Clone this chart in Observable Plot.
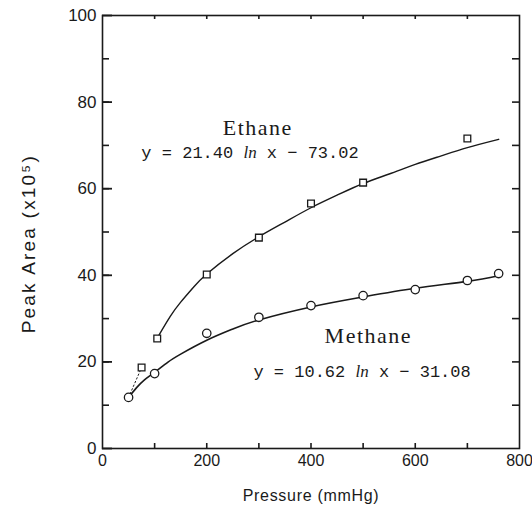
<!DOCTYPE html>
<html>
<head>
<meta charset="utf-8">
<script src="https://cdn.jsdelivr.net/npm/d3@7"></script>
<script src="https://cdn.jsdelivr.net/npm/@observablehq/plot@0.6"></script>
<style>
  html, body { margin: 0; padding: 0; background: #fff; }
  #chart { width: 532px; height: 522px; }
</style>
</head>
<body>
<div id="chart"></div>
<script>
// Tick labels
const xTicks = [0, 200, 400, 600, 800];
const xMinorTicks = [100, 200, 300, 400, 500, 600, 700];
const yTicks = [0, 20, 40, 60, 80, 100];
const yMinorTicks = [10, 20, 30, 40, 50, 60, 70, 80, 90];

// Measured points
const methaneX = [50, 100, 200, 300, 400, 500, 600, 700, 760];
const methaneY = [11.8, 17.3, 26.6, 30.3, 33.0, 35.3, 36.7, 38.8, 40.4];
const ethaneX = [75, 105, 200, 300, 400, 500, 700];
const ethaneY = [18.7, 25.4, 40.2, 48.7, 56.6, 61.4, 71.6];

// Fitted curves
const ethaneCurveX = [105, 130, 150, 175, 200, 250, 300, 350, 400, 450, 500, 550, 600, 650, 700, 760];
const ethaneCurveY = [25.5, 30.5, 33.8, 37.3, 40.3, 45.0, 48.9, 52.3, 55.6, 58.5, 61.2, 63.4, 65.6, 67.6, 69.5, 71.4];
const methaneCurveX = [50, 65, 80, 100, 125, 150, 200, 250, 300, 400, 500, 600, 700, 760];
const methaneCurveY = [11.8, 14.0, 15.8, 17.6, 19.9, 21.8, 25.0, 27.6, 29.7, 32.7, 35.0, 37.0, 38.6, 39.9];
// dotted link at the low end
const linkX = [50, 75];
const linkY = [11.8, 18.7];

// Labels
const seriesNames = ["Ethane", "Methane"];
const equations = ["y = 21.40 ln x \u2212 73.02", "y = 10.62 ln x \u2212 31.08"];
const nameX = [298, 510], nameY = [74.1, 26.1];
const eqX = [283, 498], eqY = [68.4, 17.8];
const xLabel = "Pressure (mmHg)";
const yLabel = "Peak Area (x10\u2075)";

const toRows = (xs, ys) => xs.map((x, i) => ({x, y: ys[i]}));
const methane = toRows(methaneX, methaneY);
const ethane = toRows(ethaneX, ethaneY);
const ethaneCurve = toRows(ethaneCurveX, ethaneCurveY);
const methaneCurve = toRows(methaneCurveX, methaneCurveY);
const link = toRows(linkX, linkY);
const names = seriesNames.map((t, i) => ({t, x: nameX[i], y: nameY[i]}));
const eqs = equations.map((t, i) => ({t, x: eqX[i], y: eqY[i]}));
const yMajorRows = yTicks.map(v => ({v}));
const yMinorRows = yMinorTicks.map(v => ({v}));
const xMinorRows = xMinorTicks.map(v => ({v}));

const ink = "#1a1a1a";

const chart = Plot.plot({
  width: 532,
  height: 522,
  marginLeft: 102,
  marginRight: 13,
  marginTop: 15,
  marginBottom: 74,
  x: {domain: [0, 800]},
  y: {domain: [0, 100]},
  style: {fontFamily: "'Liberation Sans', Arial, sans-serif", background: "#fff", color: ink},
  marks: [
    // tick labels
    Plot.axisX({ticks: xTicks, tickSize: 0, tickPadding: 6, fontSize: 16, label: null, tickFormat: d => String(d)}),
    Plot.axisY({ticks: yTicks, tickSize: 0, tickPadding: 6, fontSize: 17, label: null, tickFormat: d => String(d)}),
    Plot.frame({stroke: ink, strokeWidth: 1.6}),
    // inward ticks (left major, left minor, right, bottom, top)
    Plot.tickY(yMajorRows, {y: "v", insetRight: 407, stroke: ink, strokeWidth: 1.8}),
    Plot.tickY(yMinorRows, {y: "v", insetRight: 410, stroke: ink, strokeWidth: 1.6}),
    Plot.tickY(yMinorRows, {y: "v", insetLeft: 410, stroke: ink, strokeWidth: 1.6}),
    Plot.tickX(xMinorRows, {x: "v", insetTop: 428, stroke: ink, strokeWidth: 1.6}),
    Plot.tickX(xMinorRows, {x: "v", insetBottom: 429, stroke: ink, strokeWidth: 1.6}),
    // curves
    Plot.line(link, {x: "x", y: "y", stroke: ink, strokeWidth: 1, strokeDasharray: "1.5,2.5"}),
    Plot.line(ethaneCurve, {x: "x", y: "y", stroke: ink, strokeWidth: 1.4, curve: "natural"}),
    Plot.line(methaneCurve, {x: "x", y: "y", stroke: ink, strokeWidth: 1.6, curve: "natural"}),
    // points
    Plot.dot(ethane, {x: "x", y: "y", symbol: "square", r: 3.8, stroke: ink, strokeWidth: 1.3, fill: "#fff"}),
    Plot.dot(methane, {x: "x", y: "y", symbol: "circle", r: 4.2, stroke: ink, strokeWidth: 1.3, fill: "#fff"}),
    // annotations
    Plot.text(names, {x: "x", y: "y", text: "t", fontFamily: "'Liberation Serif', 'Times New Roman', serif", fontSize: 22, fill: ink}),
    Plot.text(eqs, {x: "x", y: "y", text: "t", fontFamily: "'Liberation Mono', 'Courier New', monospace", fontSize: 17, fill: ink}),
    // axis titles
    Plot.text([xLabel], {frameAnchor: "bottom", dy: 52, text: d => d, fontSize: 16, fill: ink, fontFamily: "'Liberation Sans', Arial, sans-serif"}),
    Plot.text([yLabel], {frameAnchor: "left", y: () => 47.3, textAnchor: "middle", dx: -74, rotate: -90, text: d => d, fontSize: 19, fill: ink, fontFamily: "'Liberation Sans', Arial, sans-serif"})
  ]
});

// italic "ln" in the equations
d3.select(chart).selectAll("text").each(function() {
  const el = d3.select(this);
  const s = this.textContent;
  if (s.includes(" ln ") && this.childElementCount === 0) {
    const [a, b] = s.split(" ln ");
    el.text(null);
    el.append("tspan").text(a + " ");
    el.append("tspan").attr("font-style", "italic").attr("font-family", "'Liberation Serif', serif").text("ln");
    el.append("tspan").text(" " + b);
  }
});
// letter spacing for the names and axis titles
d3.select(chart).selectAll("text").each(function() {
  const s = this.textContent;
  if (s === xLabel) this.setAttribute("letter-spacing", "0.7px");
  if (s === yLabel) this.setAttribute("letter-spacing", "2.2px");
  if (seriesNames.includes(s)) this.setAttribute("letter-spacing", "1.5px");
});

document.getElementById("chart").appendChild(chart);
</script>
</body>
</html>
